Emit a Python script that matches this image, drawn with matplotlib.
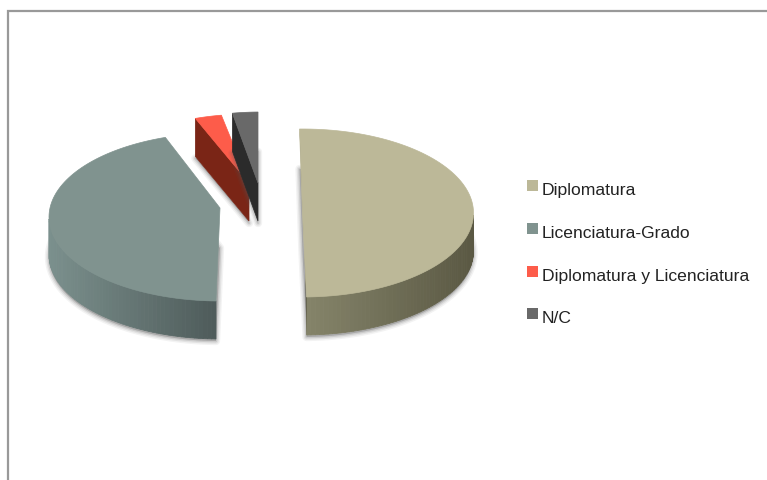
import matplotlib
matplotlib.use("Agg")
import matplotlib.pyplot as plt
import matplotlib.colors as mc
import numpy as np
from matplotlib.patches import Polygon, Rectangle

labels = ["Diplomatura", "Licenciatura-Grado", "Diplomatura y Licenciatura", "N/C"]
values = [49.9, 45.2, 2.5, 2.4]
colors = ["#bcb898", "#80938f", "#fd5c4a", "#696969"]
wall_left = ["#85846a", "#7b908d", "#7a2516", "#2b2b2b"]
wall_right = ["#5a5843", "#4e5b5a", "#7a2516", "#2b2b2b"]

# where each exploded slice sits in the picture
cx = [302.5, 220, 250, 261]
cy = [213, 217, 198, 196]
apex_dx = [0, 0, -1, -3]
apex_dy = [0, -9, -15, -13]
trim = [0, 2.7, 0, 0]
legend_y = [186, 229, 272, 314]

A, B, DEPTH = 171, 84, 38
START = -1.0

plt.rcParams["font.family"] = ["Liberation Sans", "DejaVu Sans"]
fig = plt.figure(figsize=(7.67, 4.80), dpi=100)
ax = fig.add_axes([0, 0, 1, 1])
ax.set_xlim(0, 767)
ax.set_ylim(480, 0)
ax.axis("off")

# frame around the chart
ax.plot([8, 8, 767], [480, 11, 11], color="#999999", lw=1.6, solid_joinstyle="miter")


def ell(x0, y0, deg):
	t = np.radians(deg)
	return x0 + A * np.sin(t), y0 - B * np.cos(t)


angle = START
for i, v in enumerate(values):
	end = angle + v * 3.6
	ts = np.linspace(angle + trim[i], end, 100)
	xs, ys = ell(cx[i], cy[i], ts)
	apex = (cx[i] + apex_dx[i], cy[i] + apex_dy[i])
	top = np.vstack([np.column_stack([xs, ys]), apex])

	# soft shadow, same shape pushed below the wall
	for lw, a in [(6, 0.07), (4, 0.1), (2, 0.16)]:
		ax.add_patch(Polygon(top + [0, DEPTH + 2], closed=True, fc="#555555", ec="#555555",
			alpha=a, lw=lw, joinstyle="round", zorder=i + 1))

	# outer wall, only the part facing the viewer
	wall = np.radians(ts)
	front = np.cos(wall) < 0
	n = 60
	if front.any():
		fs = np.linspace(ts[front][0], ts[front][-1], n + 1)
		c0 = np.array(mc.to_rgb(wall_left[i]))
		c1 = np.array(mc.to_rgb(wall_right[i]))
		fx, fy = ell(cx[i], cy[i], fs)
		lo, hi = fx.min(), fx.max()
		for k in range(n):
			f = ((fx[k] + fx[k + 1]) / 2 - lo) / (hi - lo)
			q = [(fx[k], fy[k]), (fx[k + 1], fy[k + 1]),
				(fx[k + 1], fy[k + 1] + DEPTH), (fx[k], fy[k] + DEPTH)]
			col = c0 + (c1 - c0) * f
			ax.add_patch(Polygon(q, closed=True, fc=col, ec=col, lw=0.6, zorder=i + 1.5))

	# cut face on the left side of the slice
	if i == 0:
		face = [(xs[0], ys[0]), (xs[-1], ys[-1]), (xs[-1], ys[-1] + DEPTH), (xs[0] + 3, ys[0] + DEPTH)]
		ax.add_patch(Polygon(face, closed=True, fc="#4d4b38", ec="none", zorder=i + 1.6))
	elif i > 1:
		face = [(xs[0], ys[0]), apex, (apex[0], apex[1] + DEPTH), (xs[0], ys[0] + DEPTH)]
		ax.add_patch(Polygon(face, closed=True, fc=wall_left[i], ec=wall_left[i], lw=0.5, zorder=i + 1.6))

	ax.add_patch(Polygon(top, closed=True, fc=colors[i], ec=colors[i], lw=0.5, zorder=i + 2))

	# legend entry
	ax.add_patch(Rectangle((527, legend_y[i] - 6), 10.5, 11, fc=colors[i], ec="none", zorder=10))
	ax.text(542, legend_y[i] + 9, labels[i], fontsize=12.6, color="#222222", va="baseline", ha="left", zorder=10)

	angle = end

fig.savefig("out.png", dpi=100)
